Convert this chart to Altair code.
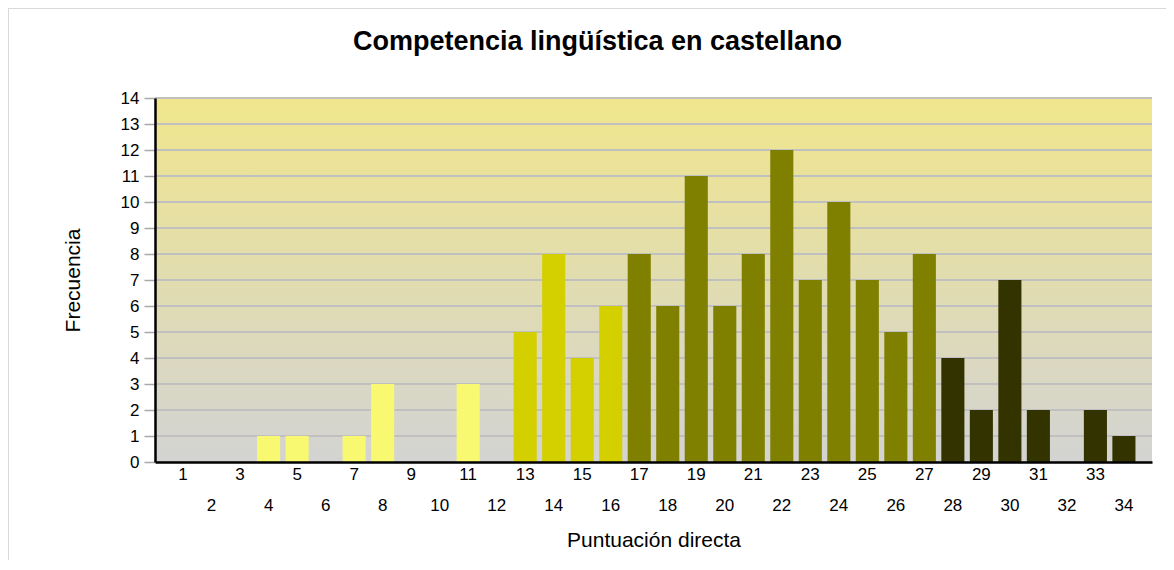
import altair as alt
import pandas as pd

# ---- data ----
scores = list(range(1, 35))
freq = [0, 0, 0, 1, 1, 0, 1, 3, 0, 0, 3, 0, 5, 8, 4, 6, 8, 6, 11, 6, 8, 12, 7, 10,
        7, 5, 8, 4, 2, 7, 2, 0, 2, 1]
groups = ["Nivel 1"] * 12 + ["Nivel 2"] * 4 + ["Nivel 3"] * 11 + ["Nivel 4"] * 7
group_names = ["Nivel 1", "Nivel 2", "Nivel 3", "Nivel 4"]
group_colors = ["#F9F871", "#D4D000", "#808000", "#333300"]
y_ticks = list(range(0, 15))

W, H = 997, 364
TOP = 90
FONT = "Liberation Sans"

df = pd.DataFrame({"score": scores, "freq": freq, "group": groups})
grid_df = pd.DataFrame({"freq": y_ticks})
one = pd.DataFrame({"a": [0]})

yscale = alt.Scale(domain=[0, 14], nice=False)
xscale = alt.Scale(paddingInner=0.19, paddingOuter=0.58)

yaxis = alt.Axis(
    title="Frecuencia", values=y_ticks, format="d", grid=False,
    tickSize=11, tickColor="#A8A8A8", tickWidth=1.5,
    domainColor="black", domainWidth=2.5,
    labelFontSize=17, labelPadding=5, labelColor="black", labelFont=FONT,
    titleX=-82, titleY=H / 2, titleAngle=270, titleAlign="center",
    titleBaseline="middle", titleFontSize=21, titleFontWeight="normal",
    titleColor="black", titleFont=FONT, zindex=1,
)
xaxis = alt.Axis(
    title="Puntuación directa", labelAngle=0,
    labelExpr="datum.value % 2 == 0 ? ['', datum.label] : datum.label",
    labelLineHeight=31, labelFontSize=17, labelPadding=4, labelBaseline="top",
    labelColor="black", labelFont=FONT, ticks=False, grid=False,
    domainColor="black", domainWidth=2.5,
    titleX=W / 2, titleY=78, titleBaseline="middle", titleAlign="center",
    titleFontSize=21, titleFontWeight="normal", titleColor="black",
    titleFont=FONT, zindex=1,
)

gradient = alt.Gradient(
    gradient="linear",
    stops=[alt.GradientStop(color="#F0E68C", offset=0),
           alt.GradientStop(color="#D3D3D3", offset=1)],
    x1=0, x2=0, y1=0, y2=1,
)

bg = alt.Chart(one).mark_rect(fill=gradient).encode(
    x=alt.value(0), x2=alt.value(W), y=alt.value(0), y2=alt.value(H)
)

grid = alt.Chart(grid_df).mark_rule(color="#C0C0C0", strokeWidth=2).encode(
    y=alt.Y("freq:Q", scale=yscale, axis=yaxis),
    x=alt.value(0), x2=alt.value(W),
)

bars = alt.Chart(df).mark_bar().encode(
    x=alt.X("score:O", scale=xscale, axis=xaxis),
    y=alt.Y("freq:Q", scale=yscale, axis=yaxis),
    color=alt.Color("group:N", scale=alt.Scale(domain=group_names, range=group_colors),
                    legend=None),
)

frame_top = alt.Chart(one).mark_rule(color="#D9D9D9", strokeWidth=2).encode(
    x=alt.value(-147), x2=alt.value(W + 20), y=alt.value(-TOP)
)
frame_left = alt.Chart(one).mark_rule(color="#D9D9D9", strokeWidth=2).encode(
    x=alt.value(-147), y=alt.value(-TOP), y2=alt.value(H + 110)
)

chart = alt.layer(bg, grid, bars, frame_top, frame_left).properties(
    width=W, height=H,
    autosize=alt.AutoSizeParams(type="none"),
    padding={"left": 147, "top": TOP, "right": 14, "bottom": 98},
    title=alt.TitleParams(
        "Competencia lingüística en castellano", fontSize=27, fontWeight="bold",
        font=FONT, color="black", anchor="middle", dx=-56, offset=-70,
        baseline="alphabetic", frame="group",
    ),
).configure_view(stroke=None)

chart.save("out.html", embed_options={"renderer": "svg", "actions": False})
